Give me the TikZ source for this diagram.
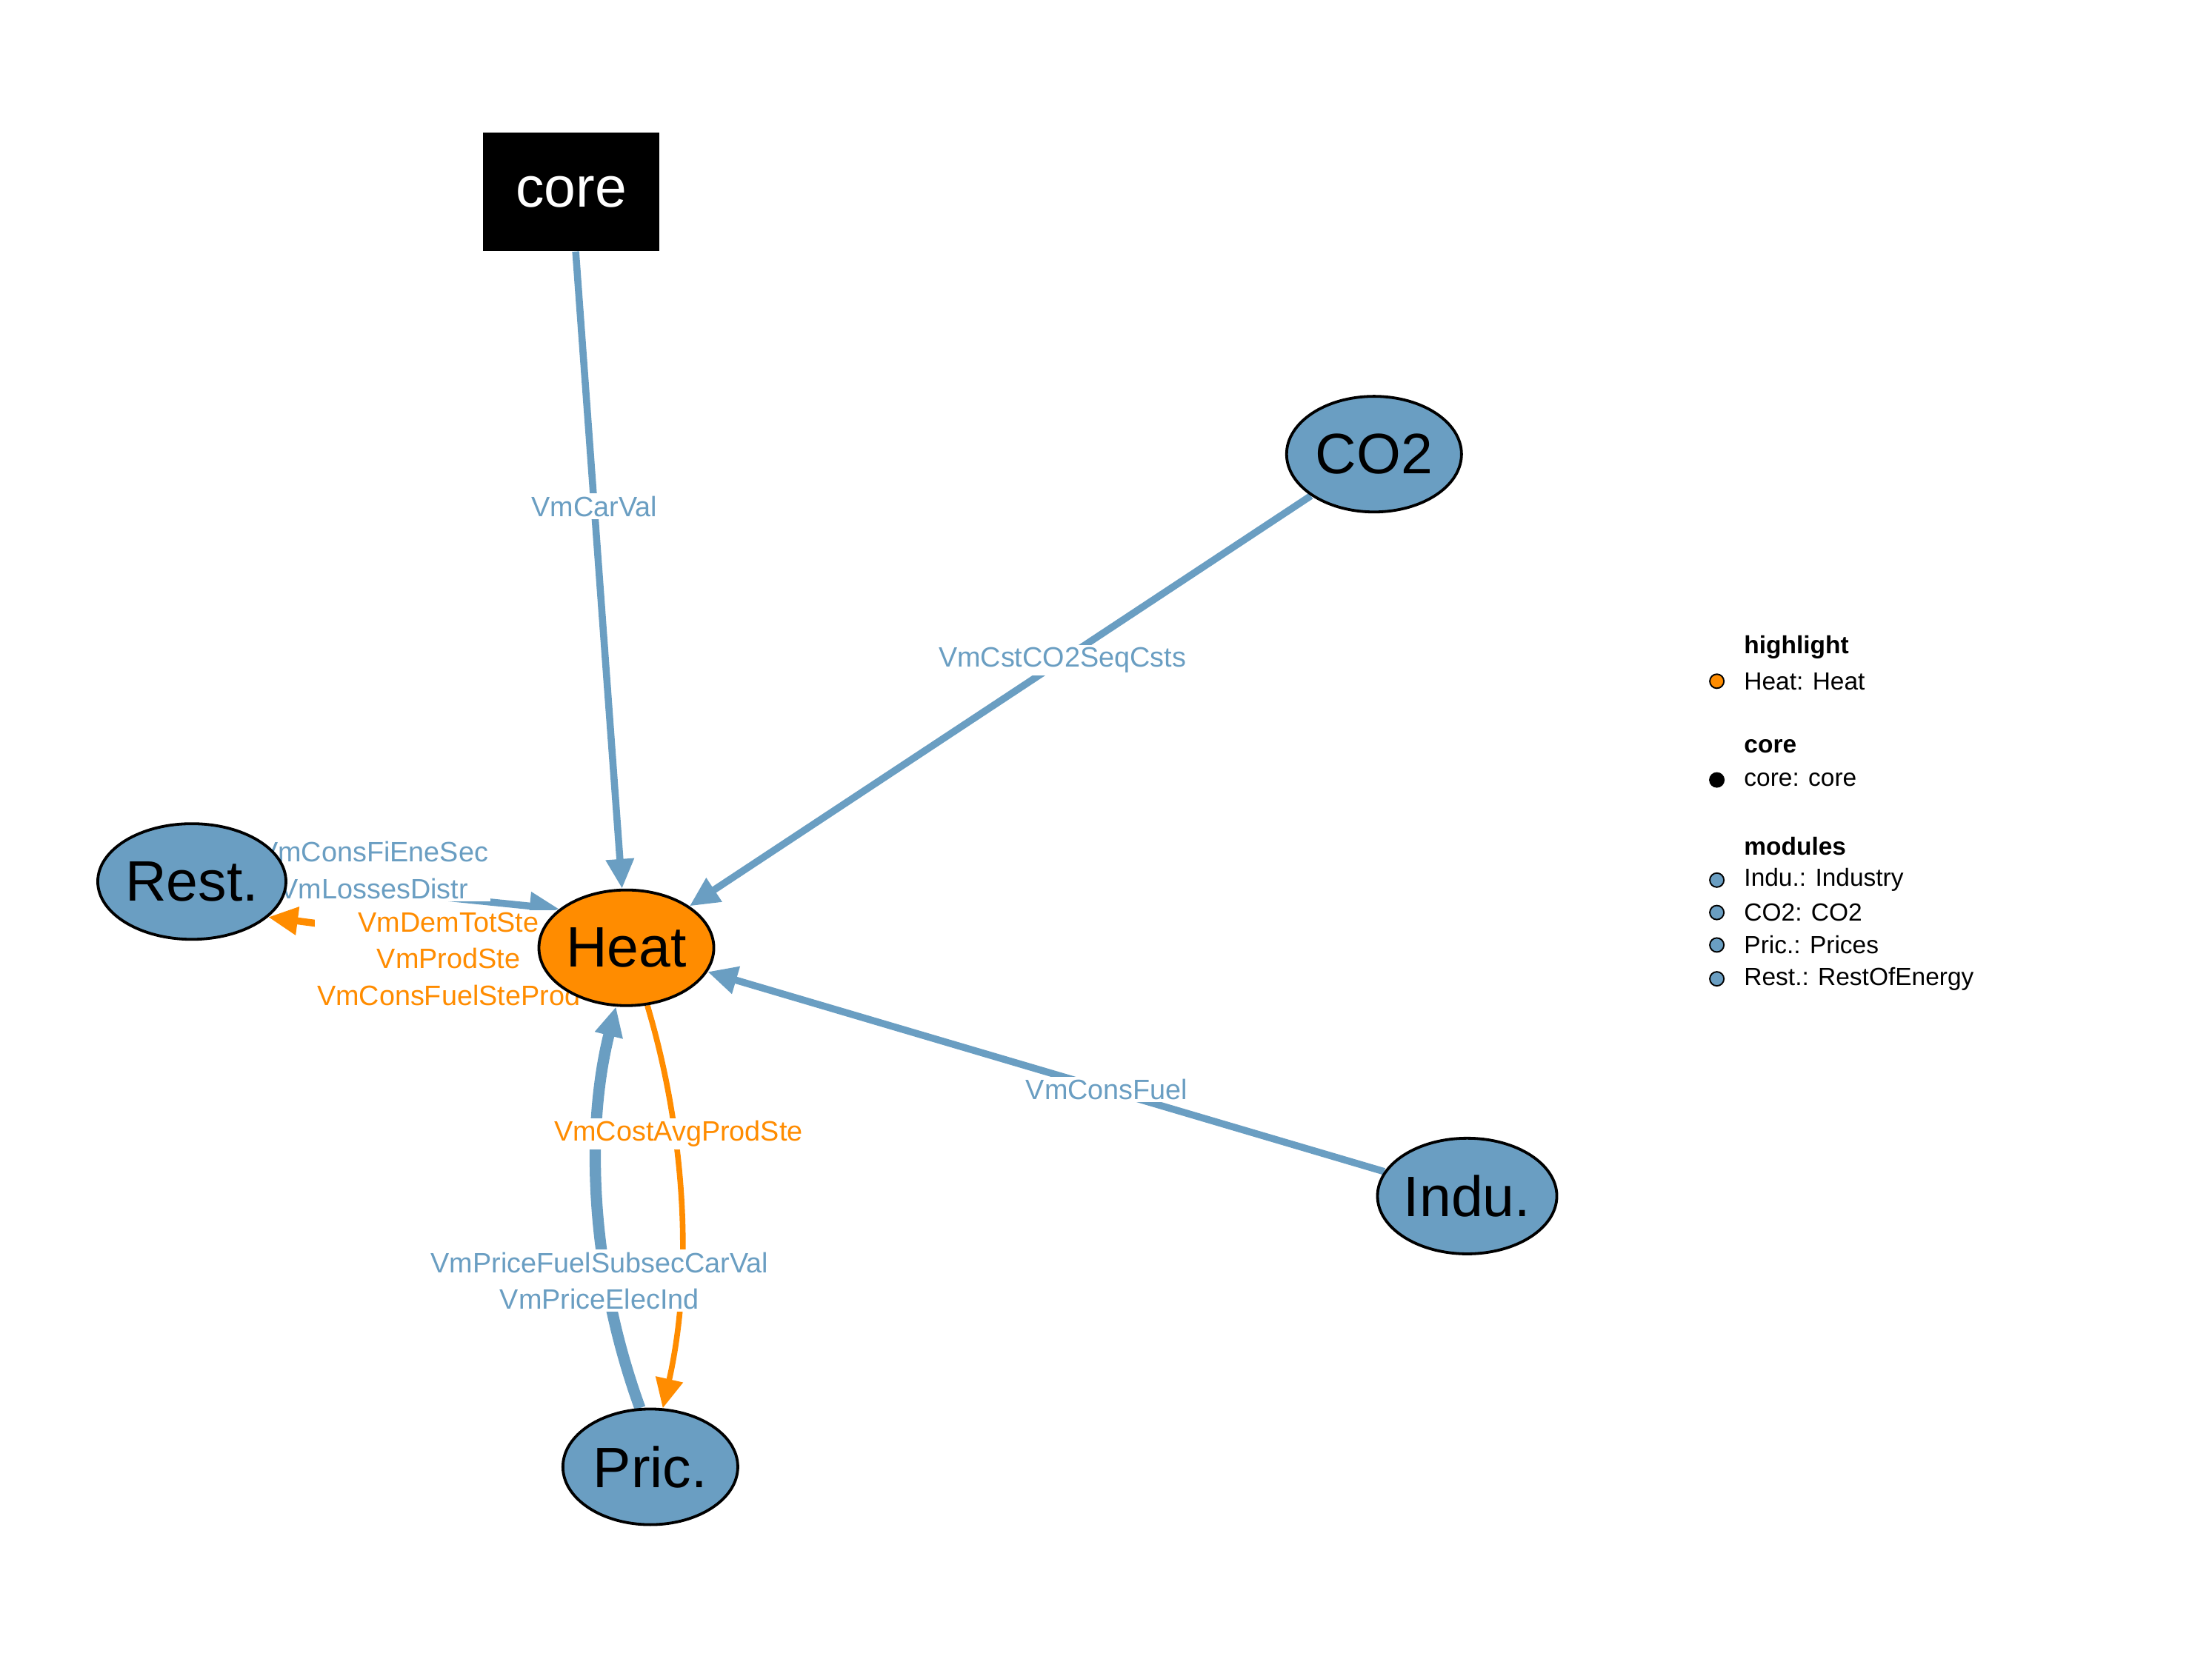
\documentclass[tikz,border=0pt]{standalone}
\usepackage{fontspec}
\setmainfont{Liberation Sans}
\usetikzlibrary{shapes.geometric,arrows.meta}
\definecolor{mblue}{HTML}{6A9EC2}
\definecolor{morange}{HTML}{FF8C00}
\pgfdeclarelayer{bg}
\pgfsetlayers{bg,main}
\begin{document}
\begin{tikzpicture}[x=0.02cm,y=-0.02cm,
  mod/.style={ellipse,draw=black,line width=0.04cm,minimum width=2.48cm,minimum height=1.64cm,inner sep=0pt,font=\fontsize{23}{26}\selectfont},
  edge/.style={line width=0.1cm,-{Triangle[length=0.42cm,width=0.38cm]}},
  lbl/.style={fill=white,inner sep=1pt,align=center,font=\fontsize{11.3}{14.7}\selectfont},
  leg/.style={anchor=west,font=\fontsize{10}{12}\selectfont,inner sep=0pt},
  dot/.style={circle,draw=black,line width=0.02cm,minimum size=0.2cm,inner sep=0pt}]
\useasboundingbox (0,0) rectangle (1568,1176);
\node[fill=black,text=white,minimum width=2.5cm,minimum height=1.68cm,font=\fontsize{23}{26}\selectfont] (core) at (405,136) {core};
\node[mod,fill=mblue] (CO2) at (974,322) {CO2};
\node[mod,fill=morange] (Heat) at (444,672) {Heat};
\node[mod,fill=mblue] (Rest) at (136,625) {Rest.};
\node[mod,fill=mblue] (Indu) at (1040,848) {Indu.};
\node[mod,fill=mblue] (Pric) at (461,1040) {Pric.};
\begin{pgfonlayer}{bg}
\draw[edge,mblue] (core) -- (Heat) node[lbl,text=mblue,pos=0.4] (l1) {VmCarVal};
\draw[edge,mblue] (CO2) -- (Heat) node[lbl,text=mblue,pos=0.4] (l2) {VmCstCO2SeqCsts};
\draw[edge,mblue] (Indu) -- (Heat) node[lbl,text=mblue,pos=0.41] (l3) {VmConsFuel};
\draw[edge,mblue,line width=0.16cm] (Pric.100) .. controls (418,900) and (415,800) .. (Heat.260);
\draw[edge,morange,line width=0.08cm] (Heat.290) .. controls (485,800) and (492,900) .. (Pric.78);
\draw[edge,mblue] (Rest.east) -- (Heat.150);
\draw[edge,morange] (Heat.183) -- (Rest.-25);
\node[lbl,text=mblue] (l4) at (425,908) {VmPriceFuelSubsecCarVal\\VmPriceElecInd};
\node[lbl,text=morange] (l5) at (481,804) {VmCostAvgProdSte};
\node[lbl,text=mblue] (l6) at (265,617) {VmConsFiEneSec\\VmLossesDistr};
\node[lbl,text=morange] (l7) at (318,680) {VmDemTotSte\\VmProdSte\\VmConsFuelSteProd};
\end{pgfonlayer}
\node[leg,font=\fontsize{10}{12}\selectfont\bfseries] (h1) at (1236,459) {highlight};
\node[dot,fill=morange] (d1) at (1217,483) {};
\node[leg] (t1) at (1236,483) {Heat: Heat};
\node[leg,font=\fontsize{10}{12}\selectfont\bfseries] (h2) at (1236,529) {core};
\node[dot,fill=black] (d2) at (1217,553) {};
\node[leg] (t2) at (1236,553) {core: core};
\node[leg,font=\fontsize{10}{12}\selectfont\bfseries] (h3) at (1236,600) {modules};
\node[dot,fill=mblue] (d3) at (1217,624) {};
\node[leg] (t3) at (1236,624) {Indu.: Industry};
\node[dot,fill=mblue] (d4) at (1217,647) {};
\node[leg] (t4) at (1236,647) {CO2: CO2};
\node[dot,fill=mblue] (d5) at (1217,670) {};
\node[leg] (t5) at (1236,670) {Pric.: Prices};
\node[dot,fill=mblue] (d6) at (1217,694) {};
\node[leg] (t6) at (1236,694) {Rest.: RestOfEnergy};
\end{tikzpicture}
\end{document}
